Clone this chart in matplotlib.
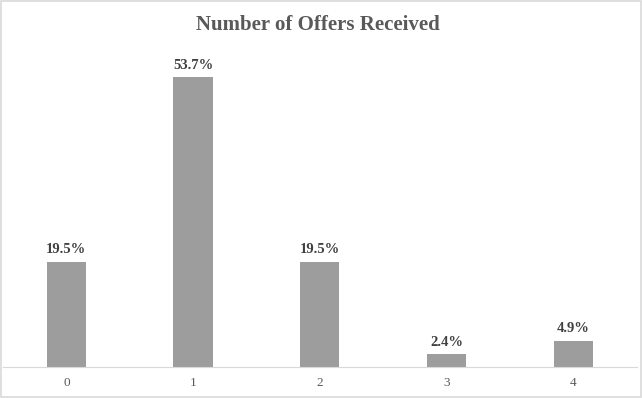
import matplotlib.pyplot as plt

categories = ['0', '1', '2', '3', '4']
shares = [19.5, 53.7, 19.5, 2.4, 4.9]

fig = plt.figure(figsize=(6.42, 3.98), dpi=100)
ax = fig.add_axes([3 / 642, 31 / 398, 633.5 / 642, 317 / 398])

x = range(len(categories))
ax.bar(x, shares, width=0.31, color='#9d9d9d', zorder=2)
for xi, v in zip(x, shares):
    ax.text(xi, v + 1.0, f'{v:.1f}%', ha='center', va='bottom',
            fontsize=10.5, fontweight='bold', color='#404040', family='Liberation Serif')

ax.set_xlim(-0.5, 4.5)
ax.set_ylim(0, 58.7)
ax.set_xticks(list(x))
ax.set_xticklabels(categories, family='Liberation Serif', fontsize=9.5, color='#595959')
ax.tick_params(axis='x', length=0, pad=7)
ax.set_yticks([])
for s in ['top', 'right', 'left']:
    ax.spines[s].set_visible(False)
ax.spines['bottom'].set_color('#d9d9d9')

fig.text(0.495, 1 - 25 / 398, 'Number of Offers Received', ha='center', va='center',
         fontsize=15, fontweight='bold', color='#595959', family='Liberation Serif')

# light frame around the chart area
fig.patches.append(plt.Rectangle((0.002, 0.003), 0.996, 0.994, transform=fig.transFigure,
                                 fill=False, edgecolor='#d9d9d9', linewidth=1.2))

fig.savefig('out.png', dpi=100)
